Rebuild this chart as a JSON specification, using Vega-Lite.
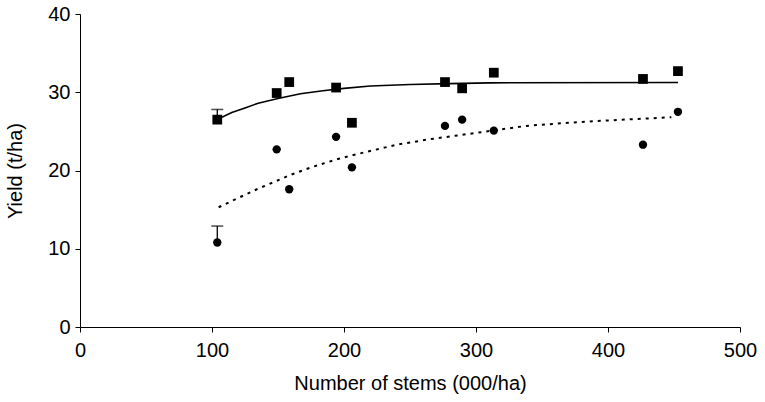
{
  "$schema": "https://vega.github.io/schema/vega-lite/v6.json",
  "autosize": "none",
  "width": 660,
  "height": 313,
  "padding": {"left": 80, "top": 14, "right": 25, "bottom": 75},
  "background": "white",
  "config": {
    "view": {"stroke": null},
    "font": "Liberation Sans",
    "axis": {
      "grid": false,
      "domainColor": "black",
      "tickColor": "black",
      "labelColor": "black",
      "titleColor": "black",
      "labelFont": "Liberation Sans",
      "titleFont": "Liberation Sans",
      "labelFontSize": 20,
      "titleFontSize": 20,
      "titleFontWeight": "normal",
      "labelFlush": false,
      "labelOverlap": false,
      "tickSize": 5,
      "domainWidth": 1,
      "tickWidth": 1
    }
  },
  "datasets": {
    "points": [
      {"series": "A", "x": 104, "y": 26.5},
      {"series": "A", "x": 149, "y": 29.9},
      {"series": "A", "x": 158.5, "y": 31.3},
      {"series": "A", "x": 194, "y": 30.6},
      {"series": "A", "x": 206, "y": 26.1},
      {"series": "A", "x": 276.5, "y": 31.3},
      {"series": "A", "x": 289.5, "y": 30.5},
      {"series": "A", "x": 313.5, "y": 32.5},
      {"series": "A", "x": 426.5, "y": 31.7},
      {"series": "A", "x": 453, "y": 32.7},
      {"series": "B", "x": 104, "y": 10.8},
      {"series": "B", "x": 149, "y": 22.7},
      {"series": "B", "x": 158.5, "y": 17.6},
      {"series": "B", "x": 194, "y": 24.3},
      {"series": "B", "x": 206, "y": 20.4},
      {"series": "B", "x": 276.5, "y": 25.7},
      {"series": "B", "x": 289.5, "y": 26.5},
      {"series": "B", "x": 313.5, "y": 25.1},
      {"series": "B", "x": 426.5, "y": 23.3},
      {"series": "B", "x": 453, "y": 27.5}
    ],
    "errors": [
      {"series": "A", "x": 104, "lo": 26.5, "hi": 27.8},
      {"series": "B", "x": 104, "lo": 10.8, "hi": 12.9}
    ],
    "fitA": [
      {"x": 107.5, "y": 26.8},
      {"x": 115, "y": 27.4},
      {"x": 125, "y": 28.0},
      {"x": 135, "y": 28.6},
      {"x": 150, "y": 29.2},
      {"x": 167, "y": 29.8},
      {"x": 184, "y": 30.2},
      {"x": 200, "y": 30.5},
      {"x": 220, "y": 30.8},
      {"x": 250, "y": 31.0},
      {"x": 280, "y": 31.1},
      {"x": 310, "y": 31.2},
      {"x": 453, "y": 31.25}
    ],
    "fitB": [
      {"x": 105, "y": 15.3},
      {"x": 120, "y": 16.5},
      {"x": 134, "y": 17.6},
      {"x": 159, "y": 19.4},
      {"x": 175, "y": 20.4},
      {"x": 196, "y": 21.5},
      {"x": 215, "y": 22.3},
      {"x": 240, "y": 23.3},
      {"x": 265, "y": 24.0},
      {"x": 300, "y": 24.8},
      {"x": 338, "y": 25.7},
      {"x": 370, "y": 26.1},
      {"x": 400, "y": 26.4},
      {"x": 448, "y": 26.8}
    ]
  },
  "encoding": {
    "x": {
      "type": "quantitative",
      "scale": {"domain": [0, 500], "nice": false},
      "axis": {"values": [0, 100, 200, 300, 400, 500], "title": "Number of stems (000/ha)", "labelPadding": 8, "titlePadding": 13}
    },
    "y": {
      "type": "quantitative",
      "scale": {"domain": [0, 40], "nice": false},
      "axis": {"values": [0, 10, 20, 30, 40], "title": "Yield (t/ha)", "labelPadding": 5, "titlePadding": 22}
    }
  },
  "layer": [
    {
      "data": {"name": "fitA"},
      "mark": {"type": "line", "color": "black", "strokeWidth": 1.6},
      "encoding": {"x": {"field": "x", "type": "quantitative"}, "y": {"field": "y", "type": "quantitative"}}
    },
    {
      "data": {"name": "fitB"},
      "mark": {"type": "line", "color": "black", "strokeWidth": 2, "strokeDash": [3, 5]},
      "encoding": {"x": {"field": "x", "type": "quantitative"}, "y": {"field": "y", "type": "quantitative"}}
    },
    {
      "data": {"name": "errors"},
      "mark": {"type": "rule", "color": "black", "strokeWidth": 1.3},
      "encoding": {"x": {"field": "x", "type": "quantitative"}, "y": {"field": "lo", "type": "quantitative"}, "y2": {"field": "hi"}}
    },
    {
      "data": {"name": "errors"},
      "mark": {"type": "tick", "color": "black", "orient": "horizontal", "size": 12, "thickness": 1.5},
      "encoding": {"x": {"field": "x", "type": "quantitative"}, "y": {"field": "hi", "type": "quantitative"}}
    },
    {
      "data": {"name": "points"},
      "mark": {"type": "point", "filled": true, "color": "black", "opacity": 1},
      "encoding": {
        "x": {"field": "x", "type": "quantitative"},
        "y": {"field": "y", "type": "quantitative"},
        "shape": {"field": "series", "type": "nominal", "scale": {"domain": ["A", "B"], "range": ["square", "circle"]}, "legend": null},
        "size": {"field": "series", "type": "nominal", "scale": {"domain": ["A", "B"], "range": [95, 70]}, "legend": null}
      }
    }
  ]
}
